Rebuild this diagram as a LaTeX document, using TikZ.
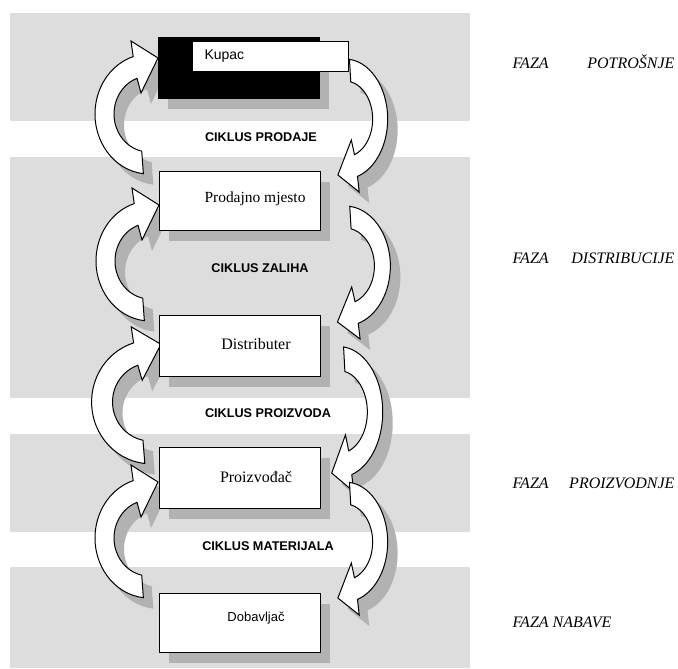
\documentclass[tikz,border=0pt]{standalone}
\usepackage{fontspec}
\setmainfont{Liberation Serif}
\setsansfont{Liberation Sans}

\definecolor{bandgray}{RGB}{221,221,221}
\definecolor{shadegray}{RGB}{178,178,178}

\tikzset{every picture/.style={line width=0.75pt}}
\tikzset{
  band/.style={fill=bandgray},
  stagebox/.style={draw, fill=white, minimum width=120.75pt, minimum height=45pt, inner sep=0pt},
  arrowbody/.style={draw=black, fill=white},
  arrowshade/.style={fill=shadegray},
  cyclelbl/.style={font=\sffamily\bfseries\fontsize{9.5}{11}\selectfont, inner sep=0pt},
  phaselbl/.style={font=\itshape\fontsize{12}{14}\selectfont, inner sep=0pt},
  pics/bentarrow/.style={code={
    \path[pic actions, yscale=-1] (96:54 and 60) arc[start angle=96, end angle=253, x radius=54, y radius=60]
      -- (-18,-73) -- (9,-56) -- (-8,-21) -- (250:35 and 38)
      arc[start angle=250, end angle=102, x radius=35, y radius=38] -- cycle;
  }}
}

% the eight curved arrows, left ones go up, right ones go down
\newcommand{\cyclearrows}[1]{%
  \pic[#1] at (149,114) {bentarrow};
  \pic[#1] at (150,261) {bentarrow};
  \pic[#1, xscale=1.1, yscale=1.03] at (151,402) {bentarrow};
  \pic[#1] at (149,538) {bentarrow};
  \pic[#1, rotate=180, xscale=0.79] at (345,119) {bentarrow};
  \pic[#1, rotate=180, xscale=0.84] at (345,266) {bentarrow};
  \pic[#1, rotate=180, xscale=0.81, yscale=1.09] at (339,412) {bentarrow};
  \pic[#1, rotate=180, xscale=0.79] at (345,542) {bentarrow};
}

\begin{document}
\begin{tikzpicture}[x=0.75pt,y=0.75pt,yscale=-1,xscale=1]
	\useasboundingbox (0,0) rectangle (678,668);

	%Bands
	\fill[band] (10,13) rectangle (470,121);
	\fill[band] (10,157) rectangle (470,398);
	\fill[band] (10,434) rectangle (470,532);
	\fill[band] (10,567) rectangle (470,668);

	%Shadows
	\begin{scope}[shift={(10,11)}]
		\fill[shadegray] (158,37) rectangle (319,98);
		\fill[shadegray] (159,171) rectangle (320,230);
		\fill[shadegray] (159,315) rectangle (320,376);
		\fill[shadegray] (159,447) rectangle (320,508);
		\fill[shadegray] (159,593) rectangle (320,652);
		\cyclearrows{arrowshade}
	\end{scope}

	%Arrows
	\cyclearrows{arrowbody}

	%Boxes
	\node[draw, fill=black, minimum width=120.75pt, minimum height=45.75pt] (kupacbg) at (238.5,67.5) {};
	\node[draw, fill=white, minimum width=117pt, minimum height=22.5pt] (kupac) at (270,56) {};
	\node[stagebox, minimum height=44.25pt] (prodajno) at (239.5,200.5) {};
	\node[stagebox, minimum height=45.75pt] (distributer) at (239.5,345.5) {};
	\node[stagebox, minimum height=45.75pt] (proizvodjac) at (239.5,477.5) {};
	\node[stagebox, minimum height=44.25pt] (dobavljac) at (239.5,622.5) {};

	% Text Node
	\node[anchor=west, inner sep=0pt, font=\sffamily\fontsize{10.5}{12}\selectfont] (kupaclbl) at (204,56) {Kupac};
	% Text Node
	\node[font=\fontsize{11.6}{13}\selectfont] (prodajnolbl) at (255,199) {Prodajno mjesto};
	% Text Node
	\node[font=\fontsize{12}{14}\selectfont] (distributerlbl) at (256,344) {Distributer};
	% Text Node
	\node[font=\fontsize{12}{14}\selectfont] (proizvodjaclbl) at (256,477) {Proizvođač};
	% Text Node
	\node[font=\sffamily\fontsize{9.75}{11}\selectfont] (dobavljaclbl) at (256,618) {Dobavljač};

	% Cycle labels
	\node[cyclelbl] (prodaje) at (261,137) {CIKLUS PRODAJE};
	\node[cyclelbl] (zaliha) at (260,268) {CIKLUS ZALIHA};
	\node[cyclelbl] (proizvoda) at (268,413) {CIKLUS PROIZVODA};
	\node[cyclelbl] (materijala) at (268,546) {CIKLUS MATERIJALA};

	% Phase labels
	\node[phaselbl, anchor=base west] (faza1) at (512,68.5) {FAZA};
	\node[phaselbl, anchor=base east] (potrosnje) at (675,68.5) {POTROŠNJE};
	\node[phaselbl, anchor=base west] (faza2) at (512,263.5) {FAZA};
	\node[phaselbl, anchor=base east] (distribucije) at (675,263.5) {DISTRIBUCIJE};
	\node[phaselbl, anchor=base west] (faza3) at (512,488.5) {FAZA};
	\node[phaselbl, anchor=base east] (proizvodnje) at (675,488.5) {PROIZVODNJE};
	\node[phaselbl, anchor=base west] (nabave) at (512,627.5) {FAZA NABAVE};

\end{tikzpicture}
\end{document}
